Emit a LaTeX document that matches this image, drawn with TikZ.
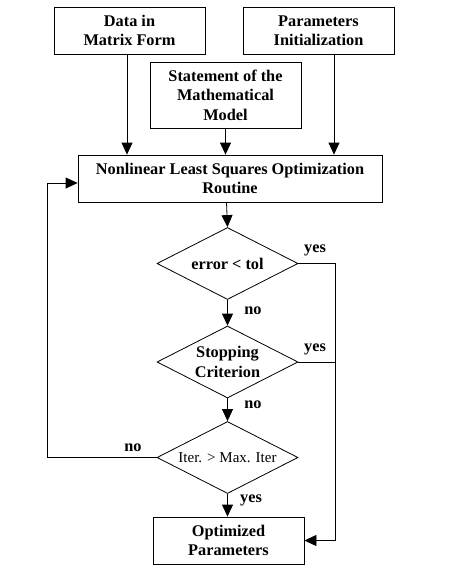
\documentclass[tikz,border=0pt]{standalone}
\usepackage{fontspec}
\setmainfont{Liberation Serif}
\usetikzlibrary{shapes.geometric,arrows.meta,calc}
\begin{document}
\begin{tikzpicture}[x=1pt,y=-1pt,
  line width=0.8pt,
  txt/.style={font=\fontsize{16.3}{19.5}\selectfont\bfseries},
  box/.style={draw,rectangle,minimum width=151pt,minimum height=47pt,inner sep=0pt,align=center,txt},
  dia/.style={draw,diamond,aspect=2,minimum width=141pt,minimum height=72pt,inner sep=0pt,align=center,txt},
  lbl/.style={txt,inner sep=0pt},
  arr/.style={-{Triangle[length=12pt,width=11pt]}},
]
\useasboundingbox (0,0) rectangle (451,576);
\node[box] (data) at (129.5,30.5) {Data in\\Matrix Form};
\node[box] (params) at (318.5,30.5) {Parameters\\Initialization};
\node[box,minimum height=66pt] (stmt) at (225.5,95) {Statement of the\\Mathematical\\Model};
\node[box,minimum width=304pt] (nlso) at (230,178.5) {Nonlinear Least Squares Optimization\\Routine};
\node[dia] (d1) at (227.5,263.5) {error < tol};
\node[dia] (d2) at (227.5,362) {Stopping\\Criterion};
\node[dia,font=\fontsize{15}{18}\selectfont] (d3) at (227.5,457.5) {Iter. > Max. Iter};
\node[box] (opt) at (228.5,540.5) {Optimized\\Parameters};

\coordinate (cl) at (47,183);
\coordinate (cr) at (335,263.5);

\draw[arr] ([xshift=-2.5pt]data.south) -- ([xshift=-2.5pt]data.south |- nlso.north);
\draw[arr] (stmt.south) -- (stmt.south |- nlso.north);
\draw[arr] ([xshift=15.5pt]params.south) -- ([xshift=15.5pt]params.south |- nlso.north);
\draw[arr] ([xshift=-3.5pt]nlso.south) -- (d1.north);
\draw[arr] (d1.south) -- (d2.north);
\draw[arr] (d2.south) -- (d3.north);
\draw[arr] (d3.south) -- (d3.south |- opt.north);
\draw[arr] (d3.west) -- (d3.west -| cl) -- (cl) -- (cl -| nlso.west);
\draw[arr] (d1.east) -- (cr) -- (cr |- opt.east) -- (opt.east);
\draw (d2.east) -- (d2.east -| cr);

\node[lbl] (y1) at (315,250) {yes};
\node[lbl] (n1) at (253,311) {no};
\node[lbl] (y2) at (315,349) {yes};
\node[lbl] (n2) at (253,405) {no};
\node[lbl] (n3) at (133,448) {no};
\node[lbl] (y3) at (251,500) {yes};
\end{tikzpicture}
\end{document}
